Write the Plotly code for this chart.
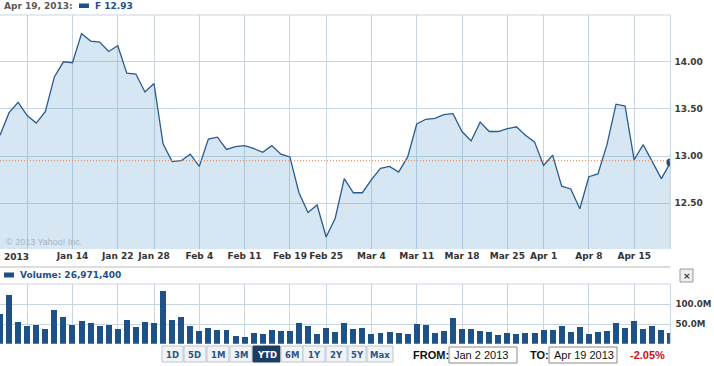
import plotly.graph_objects as go

W, H = 714, 366

dates = [
    "2013-01-02","2013-01-03","2013-01-04","2013-01-07","2013-01-08","2013-01-09","2013-01-10","2013-01-11",
    "2013-01-14","2013-01-15","2013-01-16","2013-01-17","2013-01-18","2013-01-22","2013-01-23","2013-01-24",
    "2013-01-25","2013-01-28","2013-01-29","2013-01-30","2013-01-31",
    "2013-02-01","2013-02-04","2013-02-05","2013-02-06","2013-02-07","2013-02-08","2013-02-11","2013-02-12",
    "2013-02-13","2013-02-14","2013-02-15","2013-02-19","2013-02-20","2013-02-21","2013-02-22","2013-02-25",
    "2013-02-26","2013-02-27","2013-02-28",
    "2013-03-01","2013-03-04","2013-03-05","2013-03-06","2013-03-07","2013-03-08","2013-03-11","2013-03-12",
    "2013-03-13","2013-03-14","2013-03-15","2013-03-18","2013-03-19","2013-03-20","2013-03-21","2013-03-22",
    "2013-03-25","2013-03-26","2013-03-27","2013-03-28",
    "2013-04-01","2013-04-02","2013-04-03","2013-04-04","2013-04-05","2013-04-08","2013-04-09","2013-04-10",
    "2013-04-11","2013-04-12","2013-04-15","2013-04-16","2013-04-17","2013-04-18","2013-04-19",
]

prices = [
    13.22, 13.46, 13.57, 13.43, 13.35, 13.47, 13.84, 14.00, 13.99, 14.30,
    14.22, 14.21, 14.11, 14.17, 13.88, 13.87, 13.68, 13.77, 13.13, 12.94,
    12.95, 13.02, 12.89, 13.18, 13.20, 13.07, 13.10, 13.11, 13.08, 13.04,
    13.11, 13.02, 12.99, 12.61, 12.40, 12.48, 12.14, 12.34, 12.76, 12.61,
    12.61, 12.75, 12.87, 12.89, 12.83, 12.99, 13.34, 13.39, 13.40, 13.44,
    13.45, 13.26, 13.16, 13.36, 13.26, 13.26, 13.29, 13.31, 13.22, 13.15,
    12.90, 13.01, 12.68, 12.65, 12.44, 12.78, 12.81, 13.12, 13.55, 13.53,
    12.96, 13.12, 12.94, 12.76, 12.93,
]

volumes_m = [
    75.4, 123.6, 55.0, 45.0, 47.5, 37.3, 85.5, 67.8, 47.5, 57.6,
    52.5, 45.0, 47.5, 37.3, 60.0, 42.4, 55.0, 52.5, 133.8, 60.0,
    67.8, 45.0, 32.2, 39.8, 34.8, 34.8, 19.5, 17.0, 27.0, 24.6,
    34.8, 32.2, 32.2, 52.5, 45.0, 24.6, 39.8, 29.7, 52.5, 37.3,
    39.8, 24.6, 27.0, 29.7, 27.0, 24.6, 50.0, 47.5, 27.0, 32.2,
    65.2, 37.3, 37.3, 32.2, 29.7, 22.0, 27.0, 24.6, 27.0, 27.0,
    34.8, 34.8, 45.0, 29.7, 42.4, 24.6, 29.7, 32.2, 52.5, 39.8,
    57.6, 37.3, 45.0, 34.8, 26.9714,
]
volumes = [v * 1e6 for v in volumes_m]

prev_close = 12.95

tick_dates = ["2013-01-07","2013-01-14","2013-01-22","2013-01-28","2013-02-04","2013-02-11",
              "2013-02-19","2013-02-25","2013-03-04","2013-03-11","2013-03-18","2013-03-25",
              "2013-04-01","2013-04-08","2013-04-15"]
tick_labels = ["", "Jan 14", "Jan 22", "Jan 28", "Feb 4", "Feb 11", "Feb 19", "Feb 25",
               "Mar 4", "Mar 11", "Mar 18", "Mar 25", "Apr 1", "Apr 8", "Apr 15"]

price_ticks = [12.5, 13.0, 13.5, 14.0]
price_tick_labels = ["12.50", "13.00", "13.50", "14.00"]
vol_ticks = [50e6, 100e6]
vol_tick_labels = ["50.0M", "100.0M"]

range_buttons = ["1D", "5D", "1M", "3M", "YTD", "6M", "1Y", "2Y", "5Y", "Max"]
active_button = "YTD"

symbol = "F"
last_date_label = "Apr 19, 2013:"
from_date = "Jan 2 2013"
to_date = "Apr 19 2013"
pct_change = "-2.05%"
last_volume = "26,971,400"

# ---------- helpers (pixel -> paper) ----------
def X(px):
    return px / W

def Y(py):
    return 1 - py / H

PLOT_R = 670.4
LINE = "#2b5b8e"
BAR = "#1e5186"
GRID = "#c9d6e1"
VF = "DejaVu Sans"
AF = "Liberation Sans"

fig = go.Figure()

fig.add_trace(go.Scatter(
    x=dates, y=prices, mode="lines",
    line=dict(color=LINE, width=1.3),
    fill="tozeroy", fillcolor="rgba(70,140,195,0.22)",
    xaxis="x", yaxis="y", hoverinfo="skip", showlegend=False,
))
fig.add_trace(go.Scatter(
    x=[dates[-1]], y=[prices[-1]], mode="markers",
    marker=dict(color="#1f4f86", size=8),
    cliponaxis=True, xaxis="x", yaxis="y", hoverinfo="skip", showlegend=False,
))
fig.add_trace(go.Bar(
    x=dates, y=volumes, marker=dict(color=BAR, line=dict(width=0)),
    width=0.66, xaxis="x2", yaxis="y2", hoverinfo="skip", showlegend=False,
))

xdom = [0, X(PLOT_R)]
common_x = dict(
    type="category", range=[0, len(dates) - 1], domain=xdom,
    tickvals=tick_dates, showgrid=True, gridcolor=GRID, gridwidth=1,
    ticks="", showline=False, zeroline=False, fixedrange=True,
)

fig.update_layout(
    width=W, height=H, margin=dict(l=0, r=0, t=0, b=0),
    paper_bgcolor="white", plot_bgcolor="white",
    bargap=0,
    xaxis=dict(**common_x, ticktext=["<b>%s</b>" % t for t in tick_labels],
               tickfont=dict(family=VF, size=9, color="#333333"), anchor="y"),
    yaxis=dict(domain=[Y(249), Y(15)], range=[12.0127, 14.497], side="right",
               tickvals=price_ticks, ticktext=["<b>%s</b>" % t for t in price_tick_labels],
               tickfont=dict(family=VF, size=9, color="#3a3a3a"),
               showgrid=True, gridcolor=GRID, gridwidth=1, zeroline=False,
               ticks="", anchor="x", ticklabelstandoff=3),
    xaxis2=dict(**common_x, showticklabels=False, anchor="y2"),
    yaxis2=dict(domain=[Y(343.7), Y(284)], range=[0, 151.5e6], side="right",
                tickvals=vol_ticks, ticktext=["<b>%s</b>" % t for t in vol_tick_labels],
                tickfont=dict(family=VF, size=8.7, color="#3a3a3a"),
                showgrid=True, gridcolor=GRID, gridwidth=1, zeroline=False,
                ticks="", anchor="x2", ticklabelstandoff=4),
)

shapes = []
annotations = []

# previous close dotted line
shapes.append(dict(type="line", xref="paper", yref="y", x0=0, x1=X(PLOT_R),
                   y0=prev_close, y1=prev_close,
                   line=dict(color="#ef7d3c", width=1, dash="1px,2px"), layer="above"))
# borders
for (x0, y0, x1, y1) in [(0, 15, PLOT_R, 15), (PLOT_R, 15, PLOT_R, 249),
                         (0, 284, PLOT_R, 284), (PLOT_R, 284, PLOT_R, 343.7)]:
    shapes.append(dict(type="line", xref="paper", yref="paper", x0=X(x0), x1=X(x1),
                       y0=Y(y0), y1=Y(y1), line=dict(color=GRID, width=1)))
# separator between panels
shapes.append(dict(type="line", xref="paper", yref="paper", x0=0, x1=X(PLOT_R),
                   y0=Y(267), y1=Y(267), line=dict(color="#dddddd", width=2)))

# header
annotations.append(dict(xref="paper", yref="paper", x=X(2), y=Y(6.5), xanchor="left", yanchor="middle",
                        text="<b>%s</b>" % last_date_label, showarrow=False,
                        font=dict(family=VF, size=9, color="#5a5a5a")))
shapes.append(dict(type="rect", xref="paper", yref="paper", x0=X(79), x1=X(89), y0=Y(8), y1=Y(3.5),
                   fillcolor="#1f4f86", line=dict(width=0)))
annotations.append(dict(xref="paper", yref="paper", x=X(93), y=Y(6.5), xanchor="left", yanchor="middle",
                        text="<b>%s %.2f</b>" % (symbol, prices[-1]), showarrow=False,
                        font=dict(family=VF, size=9, color="#1f4f86")))

# copyright
annotations.append(dict(xref="paper", yref="paper", x=X(3.5), y=Y(242), xanchor="left", yanchor="middle",
                        text="© 2013 Yahoo! Inc.", showarrow=False,
                        font=dict(family=AF, size=9, color="#a9b4bf")))
# year label at left
annotations.append(dict(xref="paper", yref="paper", x=X(1.5), y=Y(257), xanchor="left", yanchor="middle",
                        text="<b>2013</b>", showarrow=False,
                        font=dict(family=VF, size=9, color="#333333")))

# volume header
shapes.append(dict(type="rect", xref="paper", yref="paper", x0=X(4), x1=X(14), y0=Y(277.5), y1=Y(272.5),
                   fillcolor="#1f4f86", line=dict(width=0)))
annotations.append(dict(xref="paper", yref="paper", x=X(18), y=Y(275), xanchor="left", yanchor="middle",
                        text="<b>Volume: %s</b>" % last_volume, showarrow=False,
                        font=dict(family=VF, size=9, color="#1f4f86")))

# close button
shapes.append(dict(type="rect", xref="paper", yref="paper", x0=X(680), x1=X(693), y0=Y(282), y1=Y(269),
                   fillcolor="#eeeeee", line=dict(color="#9a9a9a", width=1)))
annotations.append(dict(xref="paper", yref="paper", x=X(686.5), y=Y(275.5), xanchor="center", yanchor="middle",
                        text="<b>×</b>", showarrow=False, font=dict(family=VF, size=9, color="#333333")))

# range buttons
btn_left = [162, 184, 207, 230, 253, 281, 303, 326, 348, 367]
btn_right = [183, 206, 229, 252, 280, 303, 325, 347, 366, 393]
for lab, l, r in zip(range_buttons, btn_left, btn_right):
    active = lab == active_button
    shapes.append(dict(type="rect", xref="paper", yref="paper", x0=X(l), x1=X(r), y0=Y(362), y1=Y(346),
                       fillcolor="#1c3d63" if active else "#f1f3f5",
                       line=dict(color="#1c3d63" if active else "#bcc7d2", width=1)))
    annotations.append(dict(xref="paper", yref="paper", x=X((l + r) / 2), y=Y(354.5),
                            xanchor="center", yanchor="middle", text="<b>%s</b>" % lab, showarrow=False,
                            font=dict(family=VF, size=8.5, color="white" if active else "#2a5589")))

# from / to
annotations.append(dict(xref="paper", yref="paper", x=X(411), y=Y(354.5), xanchor="left", yanchor="middle",
                        text="<b>FROM:</b>", showarrow=False, font=dict(family=AF, size=11, color="#111111")))
shapes.append(dict(type="rect", xref="paper", yref="paper", x0=X(449), x1=X(517), y0=Y(363), y1=Y(347),
                   fillcolor="white", line=dict(color="#8a8a8a", width=1)))
annotations.append(dict(xref="paper", yref="paper", x=X(452), y=Y(355), xanchor="left", yanchor="middle",
                        text=from_date, showarrow=False, font=dict(family=AF, size=11, color="#111111")))
annotations.append(dict(xref="paper", yref="paper", x=X(528), y=Y(354.5), xanchor="left", yanchor="middle",
                        text="<b>TO:</b>", showarrow=False, font=dict(family=AF, size=11, color="#111111")))
shapes.append(dict(type="rect", xref="paper", yref="paper", x0=X(549), x1=X(617), y0=Y(363), y1=Y(347),
                   fillcolor="white", line=dict(color="#8a8a8a", width=1)))
annotations.append(dict(xref="paper", yref="paper", x=X(552), y=Y(355), xanchor="left", yanchor="middle",
                        text=to_date, showarrow=False, font=dict(family=AF, size=11, color="#111111")))
annotations.append(dict(xref="paper", yref="paper", x=X(628), y=Y(354.5), xanchor="left", yanchor="middle",
                        text="<b>%s</b>" % pct_change, showarrow=False, font=dict(family=AF, size=11, color="#cc1111")))

fig.update_layout(shapes=shapes, annotations=annotations)
fig.write_html("out.html", config={"displayModeBar": False})
